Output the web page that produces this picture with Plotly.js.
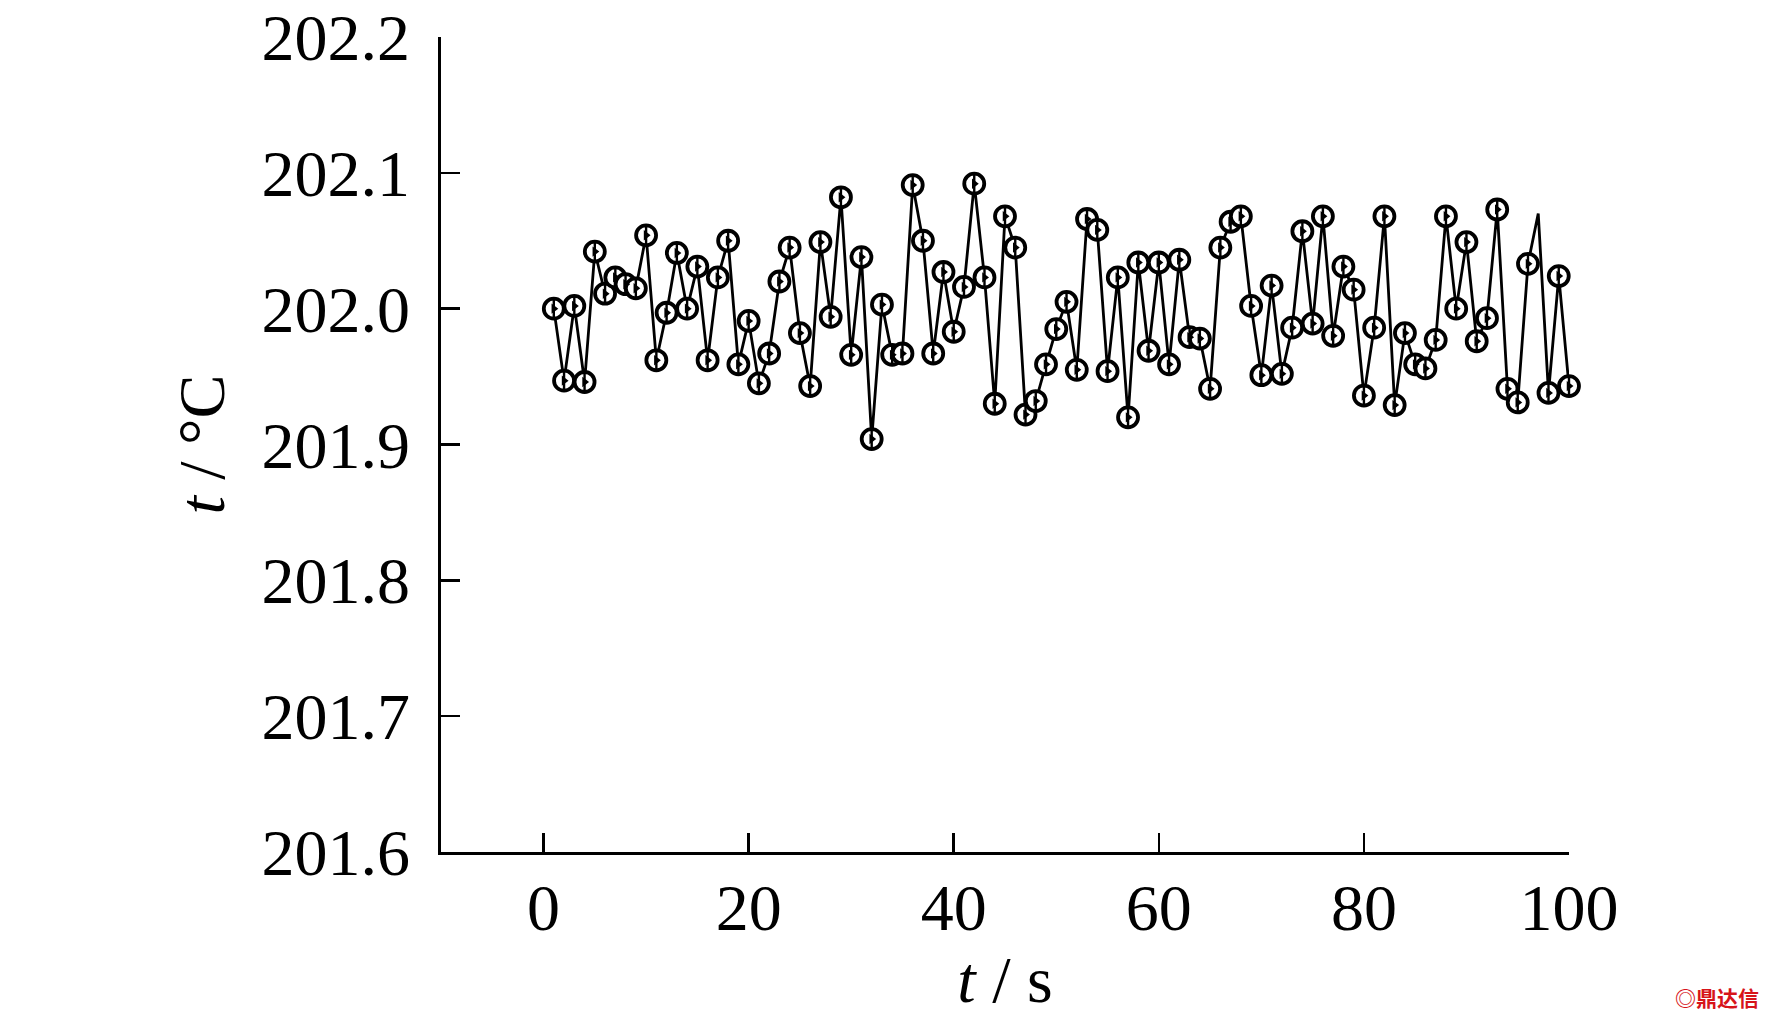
<!DOCTYPE html>
<html>
<head>
<meta charset="utf-8">
<script src="https://cdn.plot.ly/plotly-3.0.1.min.js"></script>
<style>
  html, body { margin: 0; padding: 0; background: #ffffff; }
  #chart { width: 1772px; height: 1016px; }
</style>
</head>
<body>
<div id="chart"></div>
<script>
// time in seconds
const timeS = [1,2,3,4,5,6,7,8,9,10,11,12,13,14,15,16,17,18,19,20,
  21,22,23,24,25,26,27,28,29,30,31,32,33,34,35,36,37,38,39,40,
  41,42,43,44,45,46,47,48,49,50,51,52,53,54,55,56,57,58,59,60,
  61,62,63,64,65,66,67,68,69,70,71,72,73,74,75,76,77,78,79,80,
  81,82,83,84,85,86,87,88,89,90,91,92,93,94,95,96,97,98,99,100];
// temperature in °C
const tempC = [202.000,201.947,202.002,201.946,202.042,202.011,202.023,202.018,202.015,202.054,
  201.962,201.997,202.041,202.000,202.031,201.962,202.023,202.050,201.959,201.991,
  201.945,201.967,202.020,202.045,201.982,201.943,202.049,201.994,202.082,201.966,
  202.038,201.904,202.003,201.966,201.967,202.091,202.050,201.967,202.027,201.983,
  202.016,202.092,202.023,201.930,202.068,202.045,201.922,201.932,201.959,201.985,
  202.005,201.955,202.066,202.058,201.954,202.023,201.920,202.034,201.969,202.034,
  201.959,202.036,201.979,201.978,201.941,202.045,202.064,202.068,202.002,201.951,
  202.017,201.952,201.986,202.057,201.989,202.068,201.980,202.031,202.014,201.936,
  201.986,202.068,201.929,201.982,201.959,201.956,201.977,202.068,202.000,202.049,
  201.976,201.993,202.073,201.941,201.931,202.033,202.070,201.938,202.024,201.943];
// sample without a marker in the original figure
const noMarkerAt = [97];

const xTicks = [0,20,40,60,80,100];
const yTicks = [201.6,201.7,201.8,201.9,202.0,202.1,202.2];

const mx = [], my = [];
timeS.forEach((t, i) => { if (!noMarkerAt.includes(t)) { mx.push(t); my.push(tempC[i]); } });

const FONT = 'Liberation Serif, Times New Roman, serif';

const traces = [
  { x: timeS, y: tempC, mode: 'lines', line: { color: '#000', width: 2.8 }, hoverinfo: 'skip', cliponaxis: false },
  { x: mx, y: my, mode: 'markers', cliponaxis: false,
    marker: { symbol: 'circle', size: 20, color: '#fff', line: { color: '#000', width: 3.8 } } },
  { x: mx, y: my, mode: 'markers', cliponaxis: false,
    marker: { symbol: 'line-ns-open', size: 14.5, color: '#000', line: { color: '#000', width: 2.4 } } },
  { x: mx, y: my, mode: 'markers', cliponaxis: false,
    marker: { symbol: 'triangle-right', size: 9, color: '#000', line: { width: 0 } } }
];

const layout = {
  width: 1772, height: 1016,
  paper_bgcolor: '#fff', plot_bgcolor: '#fff',
  showlegend: false,
  margin: { l: 441, r: 203, t: 37, b: 164, pad: 0 },
  font: { family: FONT, color: '#000', size: 66 },
  xaxis: {
    range: [-10, 100], tickvals: xTicks, ticktext: xTicks.map(String),
    ticks: 'inside', ticklen: 19, tickwidth: 2.5, tickcolor: '#000',
    showline: true, linecolor: '#000', linewidth: 2.8,
    showgrid: false, zeroline: false,
    tickfont: { family: FONT, size: 66 },
    ticklabelstandoff: -4,
    title: { text: '<i>t</i> / s', font: { family: FONT, size: 66 }, standoff: 52 },
    automargin: false
  },
  yaxis: {
    range: [201.6, 202.2], tickvals: yTicks, ticktext: yTicks.map(v => v.toFixed(1)),
    ticks: 'inside', ticklen: 19, tickwidth: 2.5, tickcolor: '#000',
    showline: true, linecolor: '#000', linewidth: 2.8,
    showgrid: false, zeroline: false,
    tickfont: { family: FONT, size: 66 },
    ticklabelstandoff: 15,
    title: { text: '<i>t</i> / °C', font: { family: FONT, size: 66 }, standoff: 16 },
    automargin: false
  },
  annotations: [
    { xref: 'paper', yref: 'paper', x: 1.0, y: 0, xshift: 192, yshift: -145,
      xanchor: 'right', yanchor: 'middle', showarrow: false,
      text: '<b>◎鼎达信</b>', font: { family: 'Noto Sans CJK SC', size: 21, color: '#d7141a' } }
  ]
};

Plotly.newPlot('chart', traces, layout, { displayModeBar: false, staticPlot: true });
</script>
</body>
</html>
